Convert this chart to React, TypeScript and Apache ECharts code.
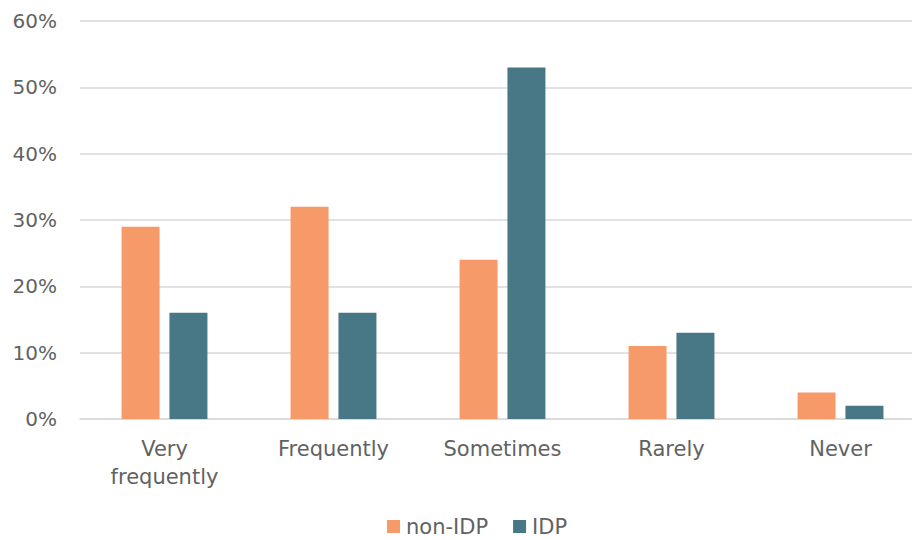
import React, { useEffect, useRef } from "react";
import * as echarts from "echarts";

const categories = ["Very frequently", "Frequently", "Sometimes", "Rarely", "Never"];
const nonIdpValues = [29, 32, 24, 11, 4];
const idpValues = [16, 16, 53, 13, 2];
const seriesNames = ["non-IDP", "IDP"];

export default function App() {
  const ref = useRef<HTMLDivElement>(null);
  useEffect(() => {
    if (!ref.current) return;
    const chart = echarts.init(ref.current, null, { renderer: "svg" });
    const font = "'DejaVu Sans', 'Noto Sans', sans-serif";
    chart.setOption({
      animation: false,
      textStyle: { fontFamily: font },
      grid: {
        left: 80,
        width: 845,
        top: 21,
        height: 398,
        containLabel: false,
        outerBoundsMode: "none",
      },
      legend: {
        top: 516,
        left: 387,
        padding: 0,
        itemWidth: 13,
        itemHeight: 13,
        itemGap: 25,
        icon: "rect",
        textStyle: { fontFamily: font, fontSize: 21, color: "#626262", padding: [0, 0, 0, 1] },
        data: seriesNames,
      },
      xAxis: {
        type: "category",
        data: categories,
        axisLine: { show: true, lineStyle: { color: "#d9d9d9", width: 1.5 } },
        axisTick: { show: false },
        axisLabel: {
          fontFamily: font,
          fontSize: 21,
          color: "#626262",
          margin: 16,
          lineHeight: 28,
          interval: 0,
          formatter: (v: string) => (v.length > 12 ? v.replace(" ", "\n") : v),
        },
      },
      yAxis: {
        type: "value",
        min: 0,
        max: 60,
        interval: 10,
        axisLine: { show: false },
        axisTick: { show: false },
        splitLine: { lineStyle: { color: "#d9d9d9", width: 1.5 } },
        axisLabel: {
          fontFamily: font,
          fontSize: 20,
          color: "#626262",
          margin: 23,
          formatter: "{value}%",
        },
      },
      series: [
        {
          name: seriesNames[0],
          type: "bar",
          data: nonIdpValues,
          barWidth: 38,
          barGap: "26%",
          itemStyle: { color: "#F79A6A" },
        },
        {
          name: seriesNames[1],
          type: "bar",
          data: idpValues,
          barWidth: 38,
          barGap: "26%",
          itemStyle: { color: "#487786" },
        },
      ],
    });
    return () => chart.dispose();
  }, []);
  return <div ref={ref} style={{ width: 912, height: 540, position: "absolute", left: 0, top: 0 }} />;
}
